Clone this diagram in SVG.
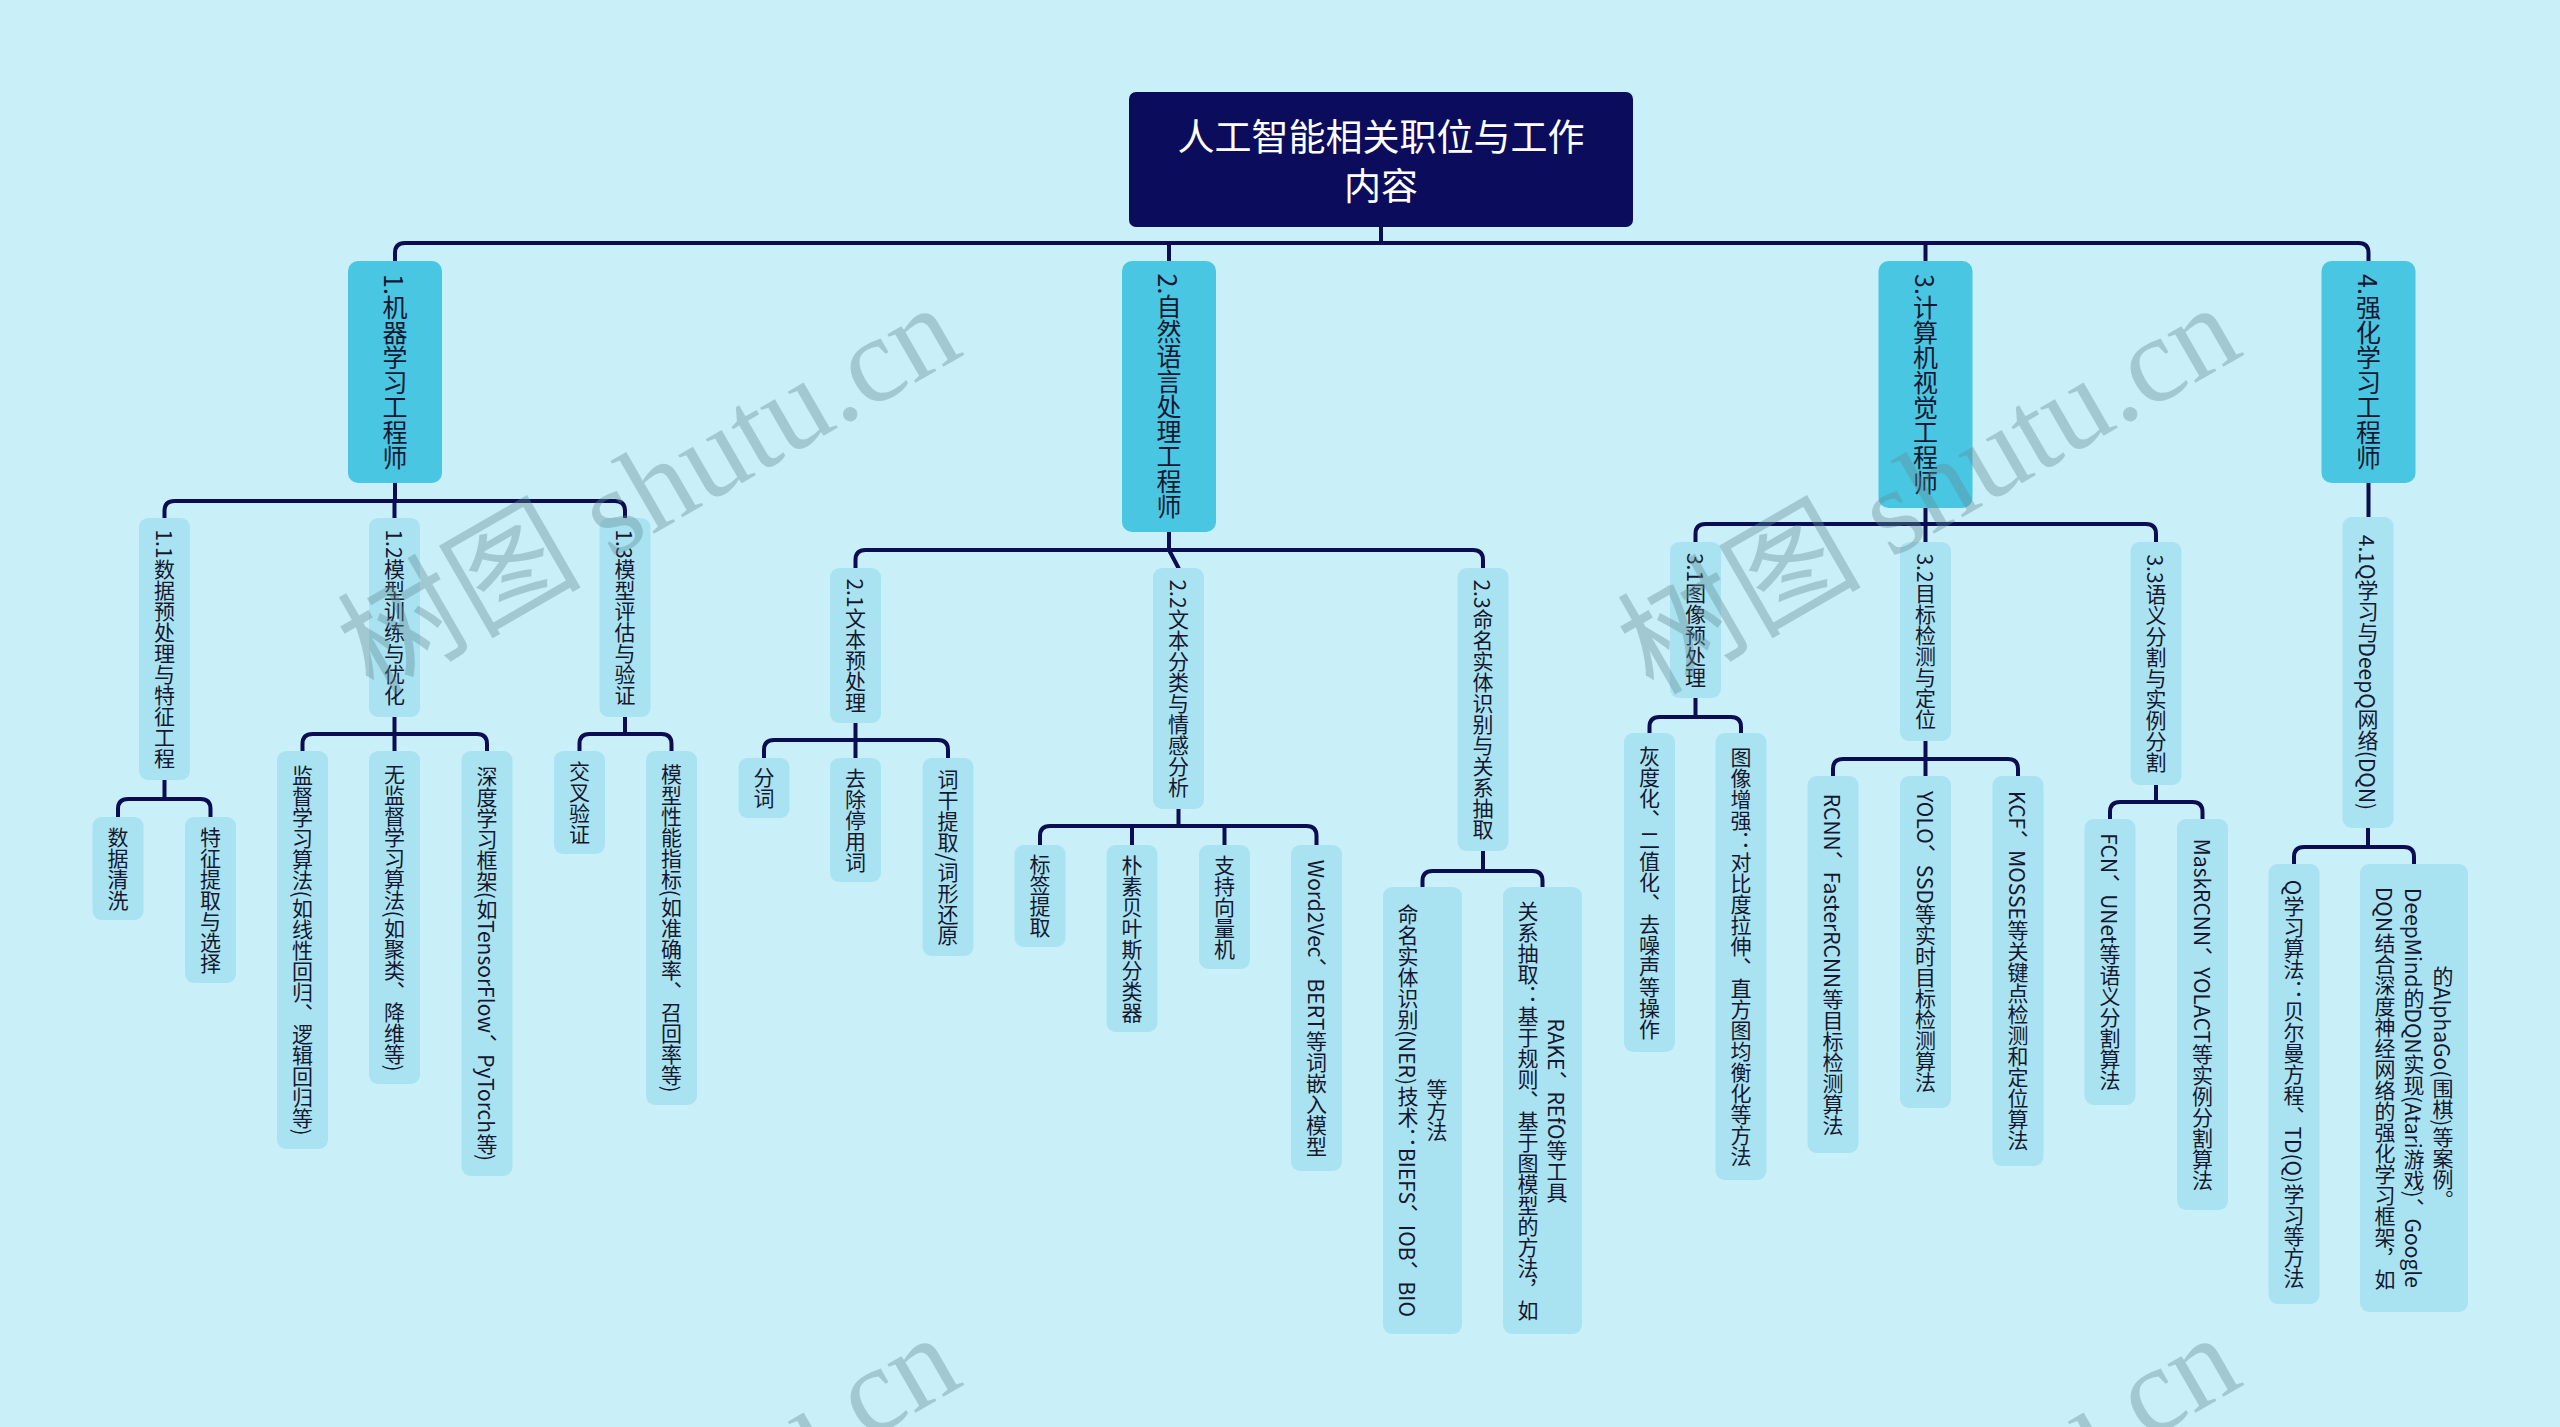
<svg xmlns="http://www.w3.org/2000/svg" width="2560" height="1427" viewBox="0 0 2560 1427">
<defs>
<style>
.bg{fill:#c9f0f8}
.root{fill:#0b0d5c}
.l1{fill:#48c6e2}
.l2{fill:#a9e3f2}
.c{fill:none;stroke:#0b0c52;stroke-width:4;stroke-linecap:round;stroke-linejoin:round}
.t{font-family:"Noto Sans CJK SC","Noto Sans",sans-serif;fill:#17172f}
.v{writing-mode:vertical-rl;text-anchor:middle}
.f1{font-size:25px}
.f2{font-size:21px}
.rt{font-family:"Noto Sans CJK SC","Noto Sans",sans-serif;font-size:37px;fill:#ffffff;text-anchor:middle}
.wm{font-family:"Liberation Serif","Noto Sans CJK SC",serif;font-size:122px;fill:#648c96;opacity:0.38}
</style>
</defs>
<rect class="bg" x="0" y="0" width="2560" height="1427"/>

<g id="connectors">
<path class="c" d="M1381 225 V243 M395 261 V253 Q395 243 405 243 H2358.5 Q2368.5 243 2368.5 253 V261 M1169 243 V261 M1925.5 243 V261"/>
<path class="c" d="M395 483 V501 M164.5 518 V511 Q164.5 501 174.5 501 H615 Q625 501 625 511 V518 M394.5 501 V518"/>
<path class="c" d="M1169 532 V550 M855.5 568 V560 Q855.5 550 865.5 550 H1473 Q1483 550 1483 560 V568 M1169 550 L1178.5 568"/>
<path class="c" d="M1925.5 508 V524 M1695.5 542 V534 Q1695.5 524 1705.5 524 H2146 Q2156 524 2156 534 V542 M1925.5 524 V542"/>
<path class="c" d="M2368.5 483 V517"/>
<path class="c" d="M164.5 780 V799 M118 817 V809 Q118 799 128 799 H200.5 Q210.5 799 210.5 809 V817"/>
<path class="c" d="M394.5 717 V734 M302.5 751 V744 Q302.5 734 312.5 734 H477 Q487 734 487 744 V751 M394.5 734 V751"/>
<path class="c" d="M625 717 V734 M579.5 751 V744 Q579.5 734 589.5 734 H661.5 Q671.5 734 671.5 744 V751"/>
<path class="c" d="M855.5 723 V740 M764 758 V750 Q764 740 774 740 H938 Q948 740 948 750 V758 M855.5 740 V758"/>
<path class="c" d="M1178.5 809 V826 M1040 845 V836 Q1040 826 1050 826 H1306.5 Q1316.5 826 1316.5 836 V845 M1132 826 V845 M1224.5 826 V845"/>
<path class="c" d="M1483 851 V871 M1422.5 887 V881 Q1422.5 871 1432.5 871 H1532.5 Q1542.5 871 1542.5 881 V887"/>
<path class="c" d="M1695.5 698 V717 M1649.5 733 V727 Q1649.5 717 1659.5 717 H1731 Q1741 717 1741 727 V733"/>
<path class="c" d="M1925.5 741 V759 M1833 776 V769 Q1833 759 1843 759 H2008 Q2018 759 2018 769 V776 M1925.5 759 V776"/>
<path class="c" d="M2156 785 V802 M2110 819 V812 Q2110 802 2120 802 H2192.5 Q2202.5 802 2202.5 812 V819"/>
<path class="c" d="M2368 828 V847 M2294 864 V857 Q2294 847 2304 847 H2404 Q2414 847 2414 857 V864"/>
</g>

<g id="root"><rect class="root" x="1129" y="92" width="504" height="135" rx="7"/>
<text class="rt" x="1381" y="151">人工智能相关职位与工作</text><text class="rt" x="1381" y="200">内容</text></g>

<g id="n1"><rect class="l1" x="348" y="261" width="94" height="222" rx="10"/><text class="t v f1" x="395" y="372">1.机器学习工程师</text></g>
<g id="n2"><rect class="l1" x="1122" y="261" width="94" height="271" rx="10"/><text class="t v f1" x="1169" y="396.5">2.自然语言处理工程师</text></g>
<g id="n3"><rect class="l1" x="1878.5" y="261" width="94" height="247" rx="10"/><text class="t v f1" x="1925.5" y="384.5">3.计算机视觉工程师</text></g>
<g id="n4"><rect class="l1" x="2321.5" y="261" width="94" height="222" rx="10"/><text class="t v f1" x="2368.5" y="372">4.强化学习工程师</text></g>

<g id="n1_1"><rect class="l2" x="139" y="518" width="51" height="262" rx="9"/><text class="t v f2" x="164.5" y="649">1.1数据预处理与特征工程</text></g>
<g id="n1_2"><rect class="l2" x="369" y="518" width="51" height="199" rx="9"/><text class="t v f2" x="394.5" y="617.5">1.2模型训练与优化</text></g>
<g id="n1_3"><rect class="l2" x="599.5" y="518" width="51" height="199" rx="9"/><text class="t v f2" x="625" y="617.5">1.3模型评估与验证</text></g>
<g id="n2_1"><rect class="l2" x="830" y="568" width="51" height="155" rx="9"/><text class="t v f2" x="855.5" y="645.5">2.1文本预处理</text></g>
<g id="n2_2"><rect class="l2" x="1153" y="568" width="51" height="241" rx="9"/><text class="t v f2" x="1178.5" y="688.5">2.2文本分类与情感分析</text></g>
<g id="n2_3"><rect class="l2" x="1457.5" y="568" width="51" height="283" rx="9"/><text class="t v f2" x="1483" y="709.5">2.3命名实体识别与关系抽取</text></g>
<g id="n3_1"><rect class="l2" x="1670" y="542" width="51" height="156" rx="9"/><text class="t v f2" x="1695.5" y="620">3.1图像预处理</text></g>
<g id="n3_2"><rect class="l2" x="1900" y="542" width="51" height="199" rx="9"/><text class="t v f2" x="1925.5" y="641.5">3.2目标检测与定位</text></g>
<g id="n3_3"><rect class="l2" x="2130.5" y="542" width="51" height="243" rx="9"/><text class="t v f2" x="2156" y="663.5">3.3语义分割与实例分割</text></g>
<g id="n4_1"><rect class="l2" x="2342.5" y="517" width="51" height="311" rx="9"/><text class="t v f2" x="2368" y="672.5">4.1Q学习与DeepQ网络(DQN)</text></g>

<g id="n1_1_1"><rect class="l2" x="92.5" y="817" width="51" height="103" rx="9"/><text class="t v f2" x="118" y="868.5">数据清洗</text></g>
<g id="n1_1_2"><rect class="l2" x="185" y="817" width="51" height="166" rx="9"/><text class="t v f2" x="210.5" y="900">特征提取与选择</text></g>
<g id="n1_2_1"><rect class="l2" x="277" y="751" width="51" height="398" rx="9"/><text class="t v f2" x="302.5" y="950">监督学习算法(如线性回归、逻辑回归等)</text></g>
<g id="n1_2_2"><rect class="l2" x="369" y="751" width="51" height="333" rx="9"/><text class="t v f2" x="394.5" y="917.5">无监督学习算法(如聚类、降维等)</text></g>
<g id="n1_2_3"><rect class="l2" x="461.5" y="751" width="51" height="425" rx="9"/><text class="t v f2" x="487" y="963.5">深度学习框架(如TensorFlow、PyTorch等)</text></g>
<g id="n1_3_1"><rect class="l2" x="554" y="751" width="51" height="103" rx="9"/><text class="t v f2" x="579.5" y="802.5">交叉验证</text></g>
<g id="n1_3_2"><rect class="l2" x="646" y="751" width="51" height="354" rx="9"/><text class="t v f2" x="671.5" y="928">模型性能指标(如准确率、召回率等)</text></g>

<g id="n2_1_1"><rect class="l2" x="738.5" y="758" width="51" height="60" rx="9"/><text class="t v f2" x="764" y="788">分词</text></g>
<g id="n2_1_2"><rect class="l2" x="830" y="758" width="51" height="124" rx="9"/><text class="t v f2" x="855.5" y="820">去除停用词</text></g>
<g id="n2_1_3"><rect class="l2" x="922.5" y="758" width="51" height="198" rx="9"/><text class="t v f2" x="948" y="857">词干提取/词形还原</text></g>
<g id="n2_2_1"><rect class="l2" x="1014.5" y="845" width="51" height="102" rx="9"/><text class="t v f2" x="1040" y="896">标签提取</text></g>
<g id="n2_2_2"><rect class="l2" x="1106.5" y="845" width="51" height="187" rx="9"/><text class="t v f2" x="1132" y="938.5">朴素贝叶斯分类器</text></g>
<g id="n2_2_3"><rect class="l2" x="1199" y="845" width="51" height="124" rx="9"/><text class="t v f2" x="1224.5" y="907">支持向量机</text></g>
<g id="n2_2_4"><rect class="l2" x="1291" y="845" width="51" height="326" rx="9"/><text class="t v f2" x="1316.5" y="1008">Word2Vec、BERT等词嵌入模型</text></g>
<g id="n2_3_1"><rect class="l2" x="1383" y="887" width="79" height="447" rx="9"/><text class="t v f2" x="1408" y="1110.5">命名实体识别(NER)技术：BIEFS、IOB、BIO</text><text class="t v f2" x="1437" y="1110.5">等方法</text></g>
<g id="n2_3_2"><rect class="l2" x="1503" y="887" width="79" height="447" rx="9"/><text class="t v f2" x="1528" y="1110.5">关系抽取：基于规则、基于图模型的方法，如</text><text class="t v f2" x="1557" y="1110.5">RAKE、REfO等工具</text></g>

<g id="n3_1_1"><rect class="l2" x="1624" y="733" width="51" height="319" rx="9"/><text class="t v f2" x="1649.5" y="892.5">灰度化、二值化、去噪声等操作</text></g>
<g id="n3_1_2"><rect class="l2" x="1715.5" y="733" width="51" height="447" rx="9"/><text class="t v f2" x="1741" y="956.5">图像增强：对比度拉伸、直方图均衡化等方法</text></g>
<g id="n3_2_1"><rect class="l2" x="1807.5" y="776" width="51" height="377" rx="9"/><text class="t v f2" x="1833" y="964.5">RCNN、FasterRCNN等目标检测算法</text></g>
<g id="n3_2_2"><rect class="l2" x="1900" y="776" width="51" height="332" rx="9"/><text class="t v f2" x="1925.5" y="942">YOLO、SSD等实时目标检测算法</text></g>
<g id="n3_2_3"><rect class="l2" x="1992.5" y="776" width="51" height="390" rx="9"/><text class="t v f2" x="2018" y="971">KCF、MOSSE等关键点检测和定位算法</text></g>
<g id="n3_3_1"><rect class="l2" x="2084.5" y="819" width="51" height="286" rx="9"/><text class="t v f2" x="2110" y="962">FCN、UNet等语义分割算法</text></g>
<g id="n3_3_2"><rect class="l2" x="2177" y="819" width="51" height="391" rx="9"/><text class="t v f2" x="2202.5" y="1014.5">MaskRCNN、YOLACT等实例分割算法</text></g>

<g id="n4_1_1"><rect class="l2" x="2268.5" y="864" width="51" height="440" rx="9"/><text class="t v f2" x="2294" y="1084">Q学习算法：贝尔曼方程、TD(Q)学习等方法</text></g>
<g id="n4_1_2"><rect class="l2" x="2360" y="864" width="108" height="448" rx="9"/><text class="t v f2" x="2385" y="1088">DQN结合深度神经网络的强化学习框架，如</text><text class="t v f2" x="2414" y="1088">DeepMind的DQN实现(Atari游戏)、Google</text><text class="t v f2" x="2443" y="1088">的AlphaGo(围棋)等案例。</text></g>

<g id="watermark">
<text class="wm" x="373" y="696" transform="rotate(-30 373 696)">树图 shutu.cn</text>
<text class="wm" x="1653" y="696" transform="rotate(-30 1653 696)">树图 shutu.cn</text>
<text class="wm" x="373" y="1726" transform="rotate(-30 373 1726)">树图 shutu.cn</text>
<text class="wm" x="1653" y="1726" transform="rotate(-30 1653 1726)">树图 shutu.cn</text>
</g>
</svg>
